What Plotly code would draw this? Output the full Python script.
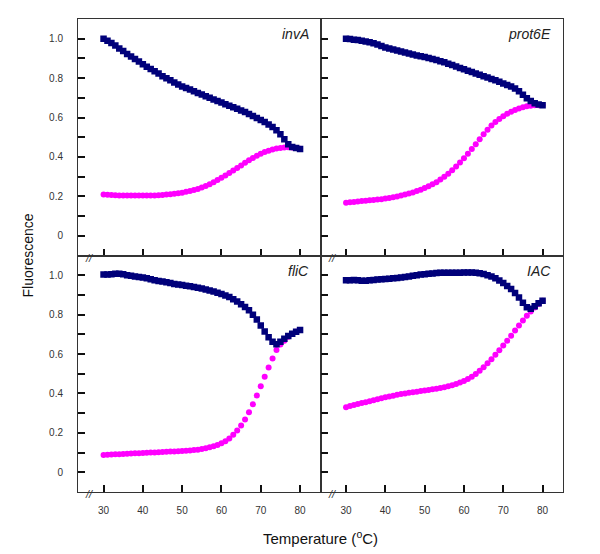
import plotly.graph_objects as go
from plotly.subplots import make_subplots

temperature = list(range(30, 81))

invA_native = [1.000, 0.990, 0.978, 0.965, 0.950, 0.937, 0.923, 0.910, 0.897, 0.884,
               0.870, 0.858, 0.846, 0.835, 0.823, 0.810, 0.800, 0.789, 0.778, 0.768,
               0.758, 0.750, 0.742, 0.733, 0.725, 0.717, 0.708, 0.700, 0.692, 0.684,
               0.676, 0.668, 0.660, 0.652, 0.644, 0.636, 0.628, 0.618, 0.608, 0.598,
               0.588, 0.578, 0.565, 0.552, 0.535, 0.515, 0.490, 0.465, 0.450, 0.445, 0.440]
invA_denat = [0.210, 0.208, 0.207, 0.206, 0.205, 0.205, 0.204, 0.204, 0.204, 0.204,
              0.204, 0.204, 0.205, 0.205, 0.206, 0.207, 0.209, 0.211, 0.213, 0.216,
              0.219, 0.223, 0.227, 0.232, 0.238, 0.245, 0.253, 0.262, 0.272, 0.283,
              0.294, 0.306, 0.318, 0.331, 0.344, 0.357, 0.370, 0.383, 0.395, 0.406,
              0.416, 0.425, 0.432, 0.438, 0.443, 0.446, 0.448, 0.449, 0.448, 0.446, 0.442]

prot6E_native = [1.000, 0.998, 0.995, 0.993, 0.990, 0.986, 0.982, 0.977, 0.970, 0.963,
                 0.956, 0.950, 0.945, 0.940, 0.935, 0.930, 0.925, 0.920, 0.915, 0.911,
                 0.907, 0.902, 0.897, 0.892, 0.886, 0.880, 0.873, 0.866, 0.859, 0.852,
                 0.845, 0.838, 0.831, 0.824, 0.817, 0.810, 0.803, 0.796, 0.789, 0.781,
                 0.773, 0.765, 0.757, 0.747, 0.733, 0.716, 0.698, 0.684, 0.672, 0.666, 0.663]
prot6E_denat = [0.168, 0.170, 0.172, 0.174, 0.176, 0.178, 0.180, 0.182, 0.184, 0.186,
                0.189, 0.192, 0.195, 0.199, 0.204, 0.209, 0.214, 0.220, 0.227, 0.234,
                0.242, 0.251, 0.261, 0.272, 0.285, 0.299, 0.315, 0.333, 0.352, 0.372,
                0.393, 0.416, 0.440, 0.465, 0.490, 0.515, 0.538, 0.559, 0.577, 0.593,
                0.607, 0.619, 0.629, 0.638, 0.646, 0.652, 0.657, 0.660, 0.662, 0.663, 0.664]

fliC_native = [1.003, 1.004, 1.005, 1.007, 1.008, 1.005, 1.000, 0.997, 0.994, 0.991,
               0.988, 0.984, 0.979, 0.975, 0.971, 0.968, 0.964, 0.960, 0.956, 0.953,
               0.950, 0.947, 0.944, 0.940, 0.936, 0.932, 0.928, 0.923, 0.917, 0.911,
               0.905, 0.897, 0.889, 0.878, 0.866, 0.853, 0.839, 0.822, 0.800, 0.775,
               0.745, 0.715, 0.685, 0.662, 0.650, 0.662, 0.678, 0.692, 0.703, 0.713, 0.722]
fliC_denat = [0.088, 0.089, 0.090, 0.091, 0.092, 0.093, 0.094, 0.095, 0.096, 0.097,
              0.098, 0.099, 0.100, 0.101, 0.102, 0.103, 0.104, 0.105, 0.106, 0.107,
              0.108, 0.109, 0.111, 0.113, 0.115, 0.118, 0.122, 0.127, 0.132, 0.139,
              0.147, 0.158, 0.172, 0.190, 0.212, 0.238, 0.268, 0.305, 0.345, 0.390,
              0.437, 0.485, 0.532, 0.578, 0.620, 0.648, 0.668, 0.688, 0.702, 0.713, 0.722]

IAC_native = [0.975, 0.975, 0.976, 0.974, 0.972, 0.972, 0.974, 0.976, 0.978, 0.979,
              0.981, 0.982, 0.984, 0.986, 0.988, 0.991, 0.994, 0.997, 1.000, 1.003,
              1.005, 1.007, 1.009, 1.011, 1.012, 1.013, 1.013, 1.013, 1.013, 1.013,
              1.014, 1.014, 1.014, 1.013, 1.010, 1.006, 1.000, 0.993, 0.985, 0.973,
              0.960, 0.945, 0.930, 0.910, 0.887, 0.860, 0.838, 0.830, 0.843, 0.858, 0.870]
IAC_denat = [0.330, 0.336, 0.341, 0.346, 0.351, 0.356, 0.361, 0.366, 0.371, 0.376,
             0.381, 0.385, 0.389, 0.393, 0.397, 0.400, 0.403, 0.406, 0.409, 0.412,
             0.415, 0.418, 0.421, 0.424, 0.428, 0.432, 0.437, 0.442, 0.448, 0.455,
             0.463, 0.473, 0.485, 0.499, 0.515, 0.533, 0.553, 0.574, 0.596, 0.619,
             0.643, 0.668, 0.693, 0.719, 0.745, 0.770, 0.794, 0.816, 0.836, 0.854, 0.870]

panel_names = ["invA", "prot6E", "fliC", "IAC"]
native_series = [invA_native, prot6E_native, fliC_native, IAC_native]
denat_series = [invA_denat, prot6E_denat, fliC_denat, IAC_denat]
positions = [(1, 1), (1, 2), (2, 1), (2, 2)]

y_tickvals = [0, 0.2, 0.4, 0.6, 0.8, 1.0]
y_ticktext = ["0", "0.2", "0.4", "0.6", "0.8", "1.0"]
x_tickvals = [30, 40, 50, 60, 70, 80]
x_ticktext = ["30", "40", "50", "60", "70", "80"]

NAVY = "#00007a"
MAGENTA = "#ff00ff"
LINE = "#333333"
FONT = "Liberation Sans, Arial, sans-serif"

fig = make_subplots(rows=2, cols=2, horizontal_spacing=0, vertical_spacing=0)

for name, nat, den, (r, c) in zip(panel_names, native_series, denat_series, positions):
    fig.add_trace(go.Scatter(x=temperature, y=den, mode="markers",
                             marker=dict(symbol="circle", size=6, color=MAGENTA, line=dict(width=0)),
                             showlegend=False), row=r, col=c)
    fig.add_trace(go.Scatter(x=temperature, y=nat, mode="markers",
                             marker=dict(symbol="square", size=6.5, color=NAVY, line=dict(width=0)),
                             showlegend=False), row=r, col=c)

for (r, c), name in zip(positions, panel_names):
    fig.update_xaxes(row=r, col=c, range=[23.5, 85.2], tickvals=x_tickvals,
                     ticktext=x_ticktext, showticklabels=(r == 2),
                     ticks="inside", ticklen=7, tickwidth=1.5, tickcolor="#111",
                     showline=True, linecolor=LINE, linewidth=1, mirror=True,
                     showgrid=False, zeroline=False,
                     tickfont=dict(size=10, color="#333", family=FONT),
                     ticklabelstandoff=9)
    fig.update_yaxes(row=r, col=c, range=[-0.1, 1.1], tickvals=y_tickvals,
                     ticktext=y_ticktext, showticklabels=(c == 1),
                     ticks="inside", ticklen=7, tickwidth=1.5, tickcolor="#111",
                     minor=dict(ticks="inside", ticklen=7, tickwidth=1.5, tickcolor="#111",
                                tick0=0, dtick=0.1, showgrid=False),
                     showline=True, linecolor=LINE, linewidth=1, mirror=True,
                     showgrid=False, zeroline=False,
                     tickfont=dict(size=10, color="#333", family=FONT),
                     ticklabelstandoff=12)

annotations = []
axis_ids = {(1, 1): ("x", "y"), (1, 2): ("x2", "y2"), (2, 1): ("x3", "y3"), (2, 2): ("x4", "y4")}
for (r, c), name in zip(positions, panel_names):
    xa, ya = axis_ids[(r, c)]
    annotations.append(dict(text=name, xref=xa + " domain", yref=ya + " domain",
                            x=1, y=1, xanchor="right", yanchor="top", xshift=-10, yshift=-5,
                            showarrow=False,
                            font=dict(size=14, color="#222", family=FONT, style="italic")))
    annotations.append(dict(text="//", xref=xa + " domain", yref=ya + " domain",
                            x=0, y=0, xanchor="center", yanchor="middle", xshift=11, yshift=-2,
                            showarrow=False,
                            font=dict(size=11, color="#333", family=FONT, style="italic")))

annotations.append(dict(text="Fluorescence", xref="paper", yref="paper", x=0, y=0.5,
                        xanchor="center", yanchor="middle", xshift=-51, textangle=-90,
                        showarrow=False, font=dict(size=14, color="#111", family=FONT)))
annotations.append(dict(text="Temperature (<sup>o</sup>C)", xref="paper", yref="paper", x=0.5, y=0,
                        xanchor="center", yanchor="middle", yshift=-45,
                        showarrow=False, font=dict(size=15, color="#111", family=FONT)))

# the page body adds an 8px offset; shrink the figure so it ends exactly at the window edge
fig.update_layout(width=592, height=546,
                  margin=dict(l=70, r=37, t=11, b=62),
                  paper_bgcolor="white", plot_bgcolor="white",
                  annotations=annotations, showlegend=False)

fig.write_html("out.html")
